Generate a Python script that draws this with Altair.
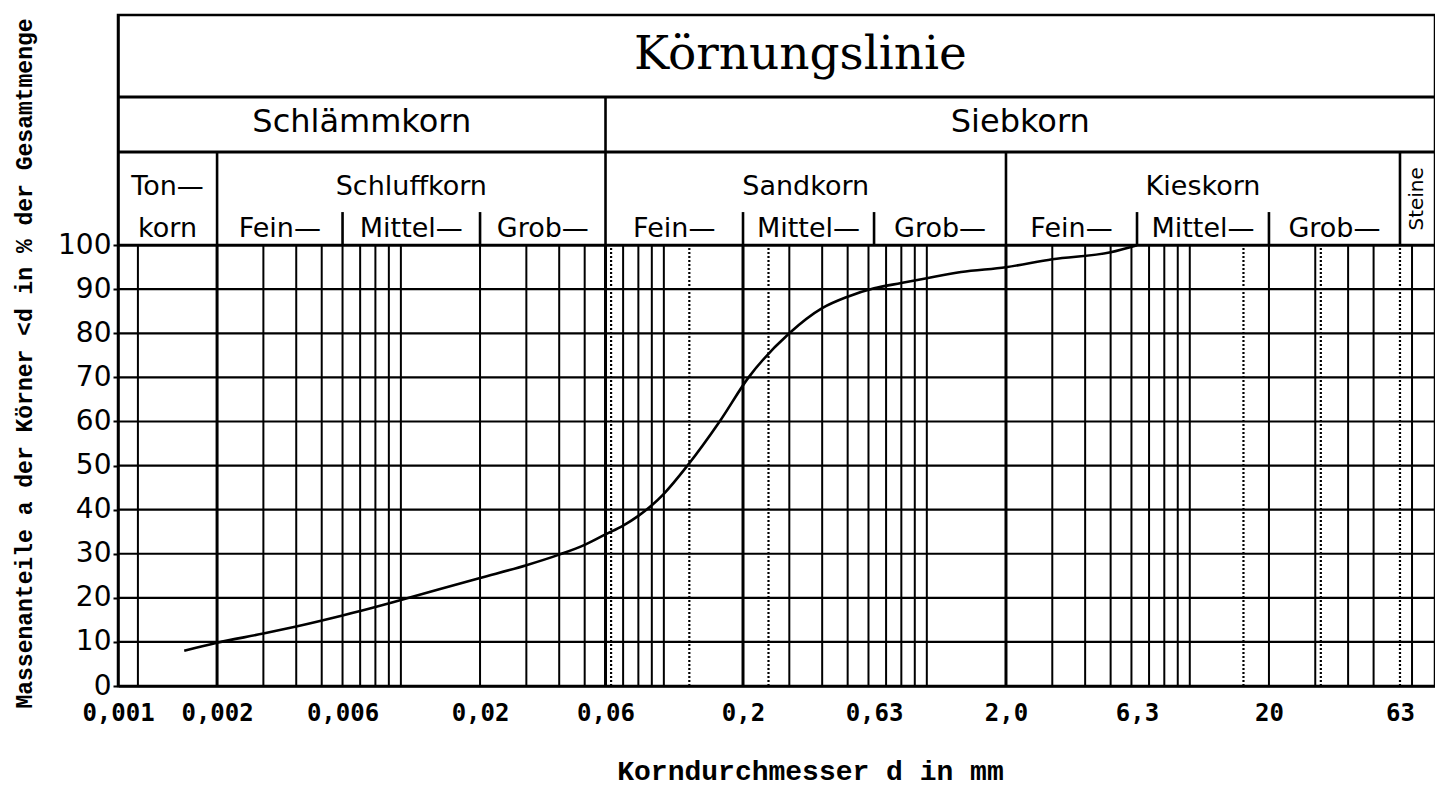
import altair as alt
import pandas as pd
import numpy as np

# ---------------- data ----------------
# grain size distribution curve (d in mm, passing in %)
d_mm = [0.0015, 0.002, 0.003, 0.004, 0.006, 0.008, 0.01, 0.02, 0.03, 0.04, 0.05,
        0.06, 0.07, 0.08, 0.09, 0.1, 0.123, 0.163, 0.21, 0.30, 0.4, 0.5, 0.63,
        0.8, 1.0, 1.35, 2.0, 3.0, 5.0, 6.3]
passing = [8.0, 9.8, 11.9, 13.5, 16.0, 17.9, 19.5, 24.5, 27.4, 29.8, 32.0,
           34.4, 36.4, 38.6, 41.0, 43.6, 50.0, 60.0, 70.0, 80.0, 85.7, 88.3, 90.2,
           91.4, 92.5, 93.9, 95.0, 96.8, 98.4, 100.0]

# x axis (log) : domain and labelled ticks
X_MIN, X_MAX = 0.00084, 85.6
tick_values = [0.00084, 0.002, 0.006, 0.02, 0.06, 0.2, 0.63, 2.0, 6.3, 20, 63]
tick_labels = ["0,001", "0,002", "0,006", "0,02", "0,06", "0,2", "0,63", "2,0", "6,3", "20", "63"]

# y axis
Y_TOP = 152.2
y_ticks = [0, 10, 20, 30, 40, 50, 60, 70, 80, 90, 100]
y_grid = [10, 20, 30, 40, 50, 60, 70, 80, 90]

# vertical grid lines of the log paper
grid_solid = [0.001, 0.003, 0.004, 0.005, 0.006, 0.007, 0.008, 0.009, 0.01,
              0.02, 0.03, 0.04, 0.05, 0.07, 0.08, 0.09, 0.1,
              0.3, 0.4, 0.5, 0.6, 0.7, 0.8, 0.9, 1.0,
              3, 4, 5, 6, 7, 8, 9, 10, 20, 30, 40, 50, 70]
grid_major = [0.002, 0.06, 0.2, 2.0]
grid_dotted = [0.063, 0.125, 0.25, 16, 31.5, 63]

# header table
header_rows = [100, 121.1, 133.6]
sep_x = [0.06, 0.002, 2.0, 63, 0.006, 0.02, 0.2, 0.63, 6.3, 20]
sep_top = [133.6, 121.1, 121.1, 121.1, 107.5, 107.5, 107.5, 107.5, 107.5, 107.5]

title_text = ["Körnungslinie"]
row2_labels = ["Schlämmkorn", "Siebkorn"]
row2_lo = [X_MIN, 0.06]
row2_hi = [0.06, X_MAX]
row3_labels = ["Ton—", "Schluffkorn", "Sandkorn", "Kieskorn"]
row3_lo = [X_MIN, 0.002, 0.06, 2.0]
row3_hi = [0.002, 0.06, 2.0, 63]
row4_labels = ["korn", "Fein—", "Mittel—", "Grob—", "Fein—", "Mittel—", "Grob—",
               "Fein—", "Mittel—", "Grob—"]
row4_lo = [X_MIN, 0.002, 0.006, 0.02, 0.06, 0.2, 0.63, 2.0, 6.3, 20]
row4_hi = [0.002, 0.006, 0.02, 0.06, 0.2, 0.63, 2.0, 6.3, 20, 63]
side_label = ["Steine"]
side_lo, side_hi = [63], [X_MAX]

# baselines of the header text rows (in % units of the y scale)
title_y, row2_y, row3_y, row4_y, side_y = 140.0, 125.6, 111.3, 101.8, 110.5

# ---------------- scales & axes ----------------
xs = alt.Scale(type="log", domain=[X_MIN, X_MAX], nice=False)
ys = alt.Scale(domain=[0, Y_TOP], nice=False, zero=False)

label_map_expr = "[" + ",".join("'%s'" % l for l in tick_labels) + "][indexof([" + \
    ",".join(repr(v) for v in tick_values) + "], datum.value)]"

X_AXIS = alt.Axis(
    values=tick_values, labelExpr=label_map_expr, ticks=False,
    labelFont="DejaVu Sans Mono", labelFontSize=24, labelFontWeight="bold",
    labelColor="black", labelPadding=15, labelOverlap=False, labelFlush=False,
    domainColor="black", domainWidth=2.5, grid=False,
    title="Korndurchmesser d in mm", titleFont="Liberation Mono",
    titleFontWeight="bold", titleFontSize=28, titleColor="black",
    titleX=692, titleY=93, titleBaseline="alphabetic", titleAlign="center")

Y_AXIS = alt.Axis(
    values=y_ticks, grid=False, tickSize=5, tickColor="black", tickWidth=2,
    labelFont="DejaVu Sans", labelFontSize=28, labelColor="black",
    labelPadding=2, domainColor="black", domainWidth=2.5,
    title="Massenanteile a der Körner <d in % der Gesamtmenge",
    titleFont="Liberation Mono", titleFontWeight="bold", titleFontSize=23,
    titleColor="black", titleAngle=270, titleX=-94, titleY=348,
    titleAlign="center", titleBaseline="middle")


def X(field):
    return alt.X(field, scale=xs, axis=X_AXIS)


def Y(field):
    return alt.Y(field, scale=ys, axis=Y_AXIS)


def cells(labels, lo, hi, yb):
    return pd.DataFrame({"label": labels,
                         "xc": np.sqrt(np.array(lo) * np.array(hi)),
                         "yb": [yb] * len(labels)})


curve_df = pd.DataFrame({"d": d_mm, "p": passing})
curve = alt.Chart(curve_df).mark_line(
    color="black", strokeWidth=2.6, interpolate="monotone"
).encode(x=X("d:Q"), y=Y("p:Q"))

# horizontal lines
hgrid = alt.Chart(pd.DataFrame({"p": y_grid})).mark_rule(
    color="black", strokeWidth=2.2).encode(y=Y("p:Q"))
hrows = alt.Chart(pd.DataFrame({"p": header_rows})).mark_rule(
    color="black", strokeWidth=3).encode(y=Y("p:Q"))


def vlines(vals, **kw):
    df = pd.DataFrame({"d": vals, "y1": [0] * len(vals), "y2": [100] * len(vals)})
    return alt.Chart(df).mark_rule(color="black", **kw).encode(
        x=X("d:Q"), y=Y("y1:Q"), y2="y2:Q")


vsolid = vlines(grid_solid, strokeWidth=2)
vmajor = vlines(grid_major, strokeWidth=3)
vdot = vlines(grid_dotted, strokeWidth=2.2, strokeDash=[2, 2])

seps = alt.Chart(pd.DataFrame({"d": sep_x, "y1": [100] * len(sep_x), "y2": sep_top})).mark_rule(
    color="black", strokeWidth=2.6).encode(x=X("d:Q"), y=Y("y1:Q"), y2="y2:Q")


def text_layer(df, font, size, dx=0, weight="normal", angle=0, baseline="alphabetic"):
    return alt.Chart(df).mark_text(
        font=font, fontSize=size, fontWeight=weight, color="black",
        align="center", baseline=baseline, dx=dx, angle=angle
    ).encode(x=X("xc:Q"), y=Y("yb:Q"), text="label:N")


t_title = text_layer(cells(title_text, [X_MIN], [X_MAX], title_y), "DejaVu Serif", 47, dx=24)
t_row2 = text_layer(cells(row2_labels, row2_lo, row2_hi, row2_y), "DejaVu Sans", 32)
t_row3 = text_layer(cells(row3_labels, row3_lo, row3_hi, row3_y), "DejaVu Sans", 27)
t_row4 = text_layer(cells(row4_labels, row4_lo, row4_hi, row4_y), "DejaVu Sans", 27)
t_side = text_layer(cells(side_label, side_lo, side_hi, side_y), "DejaVu Sans", 20,
                    angle=270, baseline="middle")

chart = alt.layer(
    curve, hgrid, vsolid, vmajor, vdot, hrows, seps,
    t_title, t_row2, t_row3, t_row4, t_side
).properties(
    width=1317, height=671,
    autosize=alt.AutoSizeParams(type="none"),
    padding={"left": 110, "top": 7, "right": 0, "bottom": 100},
    background="white",
).configure_view(stroke="black", strokeWidth=2.5)

chart.save("out.html", embed_options={"renderer": "svg", "actions": False})
